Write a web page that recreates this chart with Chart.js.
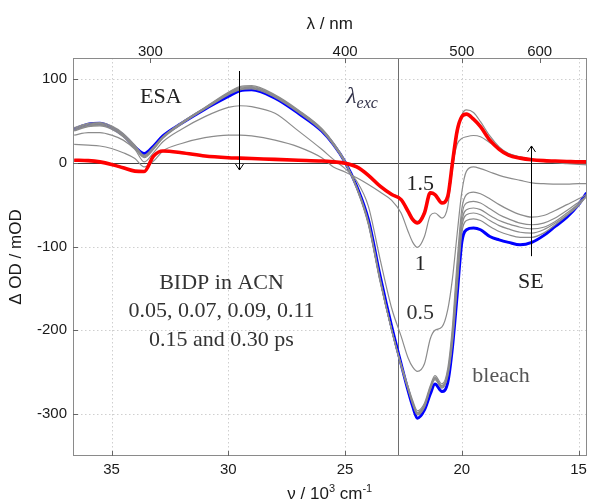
<!DOCTYPE html>
<html>
<head>
<meta charset="utf-8">
<script src="https://cdn.jsdelivr.net/npm/chart.js@4/dist/chart.umd.min.js"></script>
<style>
html,body{margin:0;padding:0;background:#fff;}
#wrap{width:592px;height:504px;position:relative;}
</style>
</head>
<body>
<div id="wrap"><canvas id="c" width="592" height="504"></canvas></div>
<script>
// wavenumber grid, 10^3 cm^-1
const nu = [36.6, 36.0, 35.5, 35.0, 34.5, 34.0, 33.6, 33.2, 32.8, 32.0, 31.0, 30.0, 29.5, 29.0, 28.0, 27.0, 26.0, 25.5, 25.0, 24.5, 24.0, 23.5, 23.0, 22.6, 22.3, 22.1, 21.9, 21.6, 21.35, 21.15, 20.85, 20.6, 20.4, 20.2, 20.0, 19.8, 19.5, 19.2, 18.8, 18.4, 18.0, 17.5, 17.0, 16.5, 16.0, 15.5, 15.0, 14.66];

// early delays (0.05 ... 0.30 ps), Delta OD in mOD
const early1 = [42, 47, 48, 44, 35, 21, 9, 19, 31, 48, 66, 83, 90, 91, 80, 62, 40, 23, 1, -31, -74, -142, -200, -240, -267, -284, -296, -287, -266, -254, -264, -245, -195, -118, -55, -38, -35, -37, -43, -50, -56, -62, -65, -63, -57, -50, -43, -38];
const early2 = [41, 46, 47, 43, 34, 20, 8, 18, 31, 48, 66, 84, 91, 92, 81, 63, 41, 24, 2, -30, -73, -141, -200, -241, -268, -286, -298, -289, -268, -256, -266, -249, -202, -128, -64, -48, -46, -48, -55, -62, -67, -72, -74, -72, -66, -57, -47, -40];
const early3 = [40, 45, 46, 42, 33, 19, 8, 17, 30, 47, 65, 83, 89, 90, 80, 62, 40, 23, 1, -30, -72, -140, -200, -242, -269, -287, -299, -290, -269, -257, -267, -251, -207, -136, -71, -56, -54, -56, -63, -69, -73, -77, -79, -77, -70, -60, -49, -40];
const early4 = [39, 44, 45, 41, 32, 18, 7, 17, 30, 47, 65, 82, 88, 89, 79, 61, 39, 22, 0, -29, -71, -139, -200, -242, -270, -288, -300, -291, -270, -258, -268, -253, -211, -143, -77, -62, -60, -62, -69, -75, -79, -83, -84, -80, -72, -62, -50, -40];
const early5 = [38, 43, 44, 40, 31, 17, 6, 16, 29, 46, 64, 81, 87, 88, 78, 60, 38, 21, 0, -29, -70, -138, -200, -243, -271, -289, -301, -292, -271, -259, -269, -255, -215, -150, -84, -69, -67, -69, -76, -82, -86, -89, -89, -84, -74, -63, -51, -40];
const blueTrace = [40, 46, 47, 42, 33, 19, 11, 20, 32, 47, 64, 79, 86, 87, 77, 59, 38, 22, 1, -28, -68, -135, -196, -240, -272, -291, -305, -295, -276, -264, -273, -262, -220, -158, -95, -80, -78, -80, -88, -92, -95, -98, -95, -87, -76, -65, -50, -36];
// later delays
const t05 = [33, 36, 36, 33, 27, 16, 1, 12, 25, 40, 55, 66, 68, 67, 59, 38, 16, 4, -7, -22, -52, -115, -174, -207, -233, -244, -249, -240, -210, -200, -196, -175, -138, -85, -35, -10, -5, -7, -11, -15, -18, -21, -24, -25, -25.5, -25.5, -25, -25];
const t1 = [22, 21, 20, 17, 12, 5, -5, 2, 14, 23, 30, 33, 33, 32, 27, 19, 6, -5, -11, -18, -26, -35, -45, -60, -82, -95, -101, -88, -63, -60, -66, -52, -5, 22, 29, 31, 32.5, 31, 24, 17, 11, 7, 4, 2.5, 1, 0, -1, -1.5];
const t15 = [3, 2.5, 1, -2, -6, -10, -10.5, 8, 14, 12, 8, 6, 5.5, 5, 4, 3, 2, 1, -0.5, -5, -15, -28, -38, -44, -58, -68, -72, -60, -36, -38, -48, -40, 0, 38, 55, 58, 52, 43, 27, 16, 9, 5.5, 3.5, 2.5, 2, 1.5, 1, 1];
const tLate = [3.5, 3, 1.5, -1.5, -5.5, -9.5, -10, 8.5, 14, 12, 8, 6, 5.5, 5, 4, 3, 2, 1, -0.5, -5, -14, -27, -37, -43, -57, -66, -70, -58, -35, -37, -47, -42, -8, 33, 57, 63, 60, 49, 32, 19, 11, 6.5, 3.5, 1.5, 0, -1, -2, -2.5];

const xTicks = [35, 30, 25, 20, 15];
const yTicks = [100, 0, -100, -200, -300];
const lambdaTicks = [300, 400, 500, 600];
const excNu = 22.75;

const pts = arr => nu.map((x, i) => ({x: x, y: arr[i]}));
const grayStyle = {borderColor: '#8c8c8c', borderWidth: 1.2, order: 1};
const common = {pointRadius: 0, fill: false, cubicInterpolationMode: 'monotone'};

const datasets = [
  Object.assign({label: '1.5 ps', data: pts(t15), borderColor: '#ff0000', borderWidth: 3.6, order: 0}, common),
  Object.assign({label: 'late', data: pts(tLate)}, grayStyle, common),
  Object.assign({label: '1 ps', data: pts(t1)}, grayStyle, common),
  Object.assign({label: '0.5 ps', data: pts(t05)}, grayStyle, common),
  Object.assign({label: 'e1', data: pts(early1)}, grayStyle, common),
  Object.assign({label: 'e2', data: pts(early2)}, grayStyle, common),
  Object.assign({label: 'e3', data: pts(early3)}, grayStyle, common),
  Object.assign({label: 'e4', data: pts(early4)}, grayStyle, common),
  Object.assign({label: 'e5', data: pts(early5)}, grayStyle, common),
  Object.assign({label: 'blue', data: pts(blueTrace), borderColor: '#0000ff', borderWidth: 3, order: 2}, common)
];

const notes = [
  {t: 'ESA', x: 32.89, y: 78.5, c: '#222'},
  {t: '1.5', x: 21.78, y: -25.4, c: '#222'},
  {t: '1', x: 21.78, y: -121, c: '#222'},
  {t: '0.5', x: 21.78, y: -179.6, c: '#333'},
  {t: 'SE', x: 17.04, y: -142.5, c: '#222'},
  {t: 'bleach', x: 18.32, y: -255, c: '#555'},
  {t: 'BIDP in ACN', x: 30.29, y: -143.7, c: '#333'},
  {t: '0.05, 0.07, 0.09, 0.11', x: 30.29, y: -177, c: '#333'},
  {t: '0.15 and 0.30 ps', x: 30.29, y: -211.8, c: '#333'}
];
const arrows = [
  {x: 29.56, from: 109.5, to: -8.7},
  {x: 17.03, from: -111.5, to: 20}
];

const SERIF = '"Liberation Serif", "DejaVu Serif", serif';
const SANS = '"Liberation Sans", Arial, sans-serif';

function seg(ctx, x1, y1, x2, y2) { ctx.beginPath(); ctx.moveTo(x1, y1); ctx.lineTo(x2, y2); ctx.stroke(); }

const decor = {
  id: 'decor',
  beforeDatasetsDraw(chart) {
    const {ctx, chartArea: a, scales} = chart;
    const x = scales.x, y = scales.y;
    ctx.save();
    ctx.lineWidth = 1;
    ctx.strokeStyle = '#cfcfcf';
    ctx.setLineDash([1.5, 2.5]);
    for (const v of xTicks) { const p = Math.round(x.getPixelForValue(v)) + 0.5; seg(ctx, p, a.top, p, a.bottom); }
    for (const v of yTicks) { if (v === 0) continue; const p = Math.round(y.getPixelForValue(v)) + 0.5; seg(ctx, a.left, p, a.right, p); }
    ctx.setLineDash([]);
    ctx.strokeStyle = '#3c3c3c';
    const y0 = Math.round(y.getPixelForValue(0)) + 0.5;
    seg(ctx, a.left, y0, a.right, y0);
    ctx.strokeStyle = '#6e6e6e';
    const xe = Math.round(x.getPixelForValue(excNu)) + 0.5;
    seg(ctx, xe, a.top, xe, a.bottom);
    ctx.restore();
  },
  afterDatasetsDraw(chart) {
    const {ctx, chartArea: a, scales} = chart;
    const x = scales.x, y = scales.y, xt = scales.xTop;
    ctx.save();
    // frame
    ctx.strokeStyle = '#8a8a8a';
    ctx.lineWidth = 1;
    ctx.strokeRect(Math.round(a.left) + 0.5, Math.round(a.top) + 0.5, Math.round(a.right - a.left) - 1, Math.round(a.bottom - a.top) - 1);
    // inward ticks
    ctx.strokeStyle = '#666';
    for (const v of xTicks) { const p = Math.round(x.getPixelForValue(v)) + 0.5; seg(ctx, p, a.bottom, p, a.bottom - 5); }
    for (const v of yTicks) { const p = Math.round(y.getPixelForValue(v)) + 0.5; seg(ctx, a.left, p, a.left + 5, p); }
    for (const l of lambdaTicks) { const p = Math.round(xt.getPixelForValue(1e4 / l)) + 0.5; seg(ctx, p, a.top, p, a.top + 5); }
    // arrows
    ctx.strokeStyle = '#000';
    ctx.lineWidth = 1;
    for (const ar of arrows) {
      const px = Math.round(x.getPixelForValue(ar.x)) + 0.5;
      const p1 = y.getPixelForValue(ar.from), p2 = y.getPixelForValue(ar.to);
      seg(ctx, px, p1, px, p2);
      const dir = p2 > p1 ? -1 : 1;
      ctx.beginPath();
      ctx.moveTo(px - 4, p2 + dir * 6); ctx.lineTo(px, p2); ctx.lineTo(px + 4, p2 + dir * 6);
      ctx.stroke();
    }
    // annotations
    ctx.textAlign = 'center';
    ctx.textBaseline = 'middle';
    ctx.font = '22px ' + SERIF;
    for (const n of notes) {
      ctx.fillStyle = n.c;
      ctx.fillText(n.t, x.getPixelForValue(n.x), y.getPixelForValue(n.y));
    }
    // lambda_exc
    const lx = x.getPixelForValue(24.55), ly = y.getPixelForValue(78.5);
    ctx.fillStyle = '#33334a';
    ctx.textAlign = 'right';
    ctx.font = 'italic 23px ' + SERIF;
    ctx.fillText('λ', lx + 1, ly);
    ctx.textAlign = 'left';
    ctx.font = 'italic 16px ' + SERIF;
    ctx.fillText('exc', lx + 1, ly + 7);
    // axis titles
    ctx.fillStyle = '#1a1a1a';
    const cx = (a.left + a.right) / 2;
    ctx.textAlign = 'center';
    ctx.textBaseline = 'alphabetic';
    ctx.font = '17px ' + SANS;
    ctx.fillText('λ / nm', cx, 29);
    // bottom title with superscripts
    const partsB = [['ν / 10', 17, 0], ['3', 11, -7], [' cm', 17, 0], ['-1', 11, -7]];
    let w = 0;
    for (const p of partsB) { ctx.font = p[1] + 'px ' + SANS; w += ctx.measureText(p[0]).width; }
    let sx = cx - w / 2;
    ctx.textAlign = 'left';
    for (const p of partsB) { ctx.font = p[1] + 'px ' + SANS; ctx.fillText(p[0], sx, 499 + p[2]); sx += ctx.measureText(p[0]).width; }
    // left title
    ctx.save();
    ctx.translate(21, (a.top + a.bottom) / 2);
    ctx.rotate(-Math.PI / 2);
    ctx.textAlign = 'center';
    ctx.font = '17px ' + SANS;
    ctx.fillText('Δ OD / mOD', 0, 0);
    ctx.restore();
    ctx.restore();
  }
};

const tickFont = {family: 'Liberation Sans', size: 15};
new Chart(document.getElementById('c'), {
  type: 'line',
  data: {datasets: datasets},
  options: {
    responsive: false,
    animation: false,
    devicePixelRatio: 1,
    layout: {padding: {left: 0, right: 4, top: 0, bottom: 0}},
    plugins: {legend: {display: false}, tooltip: {enabled: false}},
    scales: {
      x: {
        type: 'linear', position: 'bottom', min: 14.66, max: 36.65, reverse: true,
        afterBuildTicks: s => { s.ticks = xTicks.map(v => ({value: v})); },
        afterFit: s => { s.height = 48; },
        ticks: {font: tickFont, color: '#1a1a1a', padding: 5, maxRotation: 0, autoSkip: false, callback: v => String(v)},
        grid: {display: false, drawTicks: false},
        border: {display: false}
      },
      xTop: {
        type: 'linear', position: 'top', min: 14.66, max: 36.65, reverse: true,
        afterBuildTicks: s => { s.ticks = lambdaTicks.map(l => ({value: 1e4 / l})); },
        afterFit: s => { s.height = 58; },
        ticks: {font: tickFont, color: '#1a1a1a', padding: -3, maxRotation: 0, autoSkip: false, callback: v => String(Math.round(1e4 / v))},
        grid: {display: false, drawTicks: false},
        border: {display: false}
      },
      y: {
        type: 'linear', min: -350, max: 125,
        afterBuildTicks: s => { s.ticks = yTicks.map(v => ({value: v})); },
        afterFit: s => { s.width = 73; },
        ticks: {font: tickFont, color: '#1a1a1a', padding: 6, autoSkip: false, callback: v => String(v)},
        grid: {display: false, drawTicks: false},
        border: {display: false}
      }
    }
  },
  plugins: [decor]
});
</script>
</body>
</html>
